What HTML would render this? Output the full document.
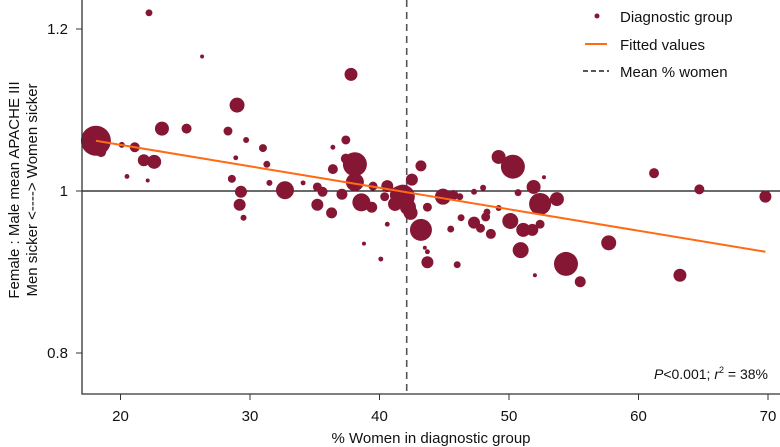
<!DOCTYPE html>
<html><head><meta charset="utf-8"><style>
body{margin:0;background:#fff}
svg{display:block;font-family:"Liberation Sans",sans-serif}
</style></head><body>
<svg id="chart" width="780" height="447" viewBox="0 0 780 447">
<g id="marks"></g>
<g id="axes"></g>
<g>
<circle cx="597" cy="16" r="2.5" fill="#861734"/>
<text x="620" y="22" font-size="15" fill="#111">Diagnostic group</text>
<line x1="585" y1="44" x2="607" y2="44" stroke="#ff6a13" stroke-width="2"/>
<text x="620" y="50" font-size="15" fill="#111">Fitted values</text>
<line x1="583" y1="71" x2="609" y2="71" stroke="#222" stroke-width="1.5" stroke-dasharray="5,3"/>
<text x="620" y="77" font-size="15" fill="#111">Mean % women</text>
</g>
<text x="768" y="379" font-size="14" text-anchor="end" fill="#111"><tspan font-style="italic">P</tspan>&lt;0.001; <tspan font-style="italic">r</tspan><tspan font-size="9" dy="-6">2</tspan><tspan dy="6"> = 38%</tspan></text>
<text x="431" y="443" font-size="15" text-anchor="middle" fill="#111">% Women in diagnostic group</text>
<text transform="translate(19,190) rotate(-90)" font-size="15" text-anchor="middle" fill="#111"><tspan x="0" dy="0">Female : Male mean APACHE III</tspan><tspan x="0" dy="18">Men sicker &lt;----&gt; Women sicker</tspan></text>
</svg>
<script>
const xs=[18.1,18.5,22.2,26.3,37.8,29.0,23.2,25.1,28.3,20.1,21.1,29.7,31.0,36.4,37.4,21.8,22.6,28.9,31.3,20.5,22.1,28.6,31.5,32.7,34.1,29.3,29.2,29.5,35.2,35.6,35.2,36.3,37.1,36.4,37.4,38.1,38.1,38.6,39.4,39.5,40.6,40.4,40.6,38.8,40.1,42.5,43.2,41.8,41.2,42.4,43.2,41.5,42.2,43.7,43.5,43.7,43.7,46.0,45.5,46.3,44.9,45.7,46.2,47.3,48.0,47.3,47.8,48.3,48.2,48.6,49.2,49.2,50.3,50.7,51.9,52.4,53.7,52.7,50.1,51.1,51.8,52.4,50.9,52.0,54.4,55.5,57.7,61.2,64.7,69.8,63.2];
const ys=[1.062,1.048,1.220,1.166,1.144,1.106,1.077,1.077,1.074,1.057,1.054,1.063,1.053,1.054,1.063,1.038,1.036,1.041,1.033,1.018,1.013,1.015,1.010,1.001,1.010,0.999,0.983,0.967,1.005,0.999,0.983,0.973,0.996,1.027,1.040,1.033,1.011,0.986,0.980,1.006,1.006,0.993,0.959,0.935,0.916,1.014,1.031,0.993,0.984,0.973,0.952,0.995,0.980,0.980,0.930,0.925,0.912,0.909,0.953,0.967,0.993,0.995,0.993,0.999,1.004,0.961,0.954,0.974,0.968,0.947,0.979,1.042,1.030,0.998,1.005,0.984,0.990,1.017,0.963,0.952,0.952,0.959,0.927,0.896,0.910,0.888,0.936,1.022,1.002,0.993,0.896];
const sizes=[225,25,12,4,42,56,49,25,20,9,25,9,16,6,20,36,49,6,12,6,4,16,9,81,6,36,36,9,20,25,36,30,30,25,25,144,81,81,30,20,36,20,6,4,6,36,30,144,49,49,121,81,64,20,4,6,36,12,12,12,64,25,12,9,9,36,20,12,20,25,9,49,144,12,49,121,49,4,64,49,36,20,64,4,144,30,56,25,25,36,42];
const xTicks=[20,30,40,50,60,70];
const yTicks=[0.8,1,1.2];
const meanWomen=42.1;
const fitX=[18.1,69.8];
const fitY=[1.062,0.925];
const X=v=>120.5+(v-20)*12.95;
const Y=v=>191-(v-1)*810;
const NS="http://www.w3.org/2000/svg";
const marks=document.getElementById('marks'), axes=document.getElementById('axes');
function mk(tag,attrs,parent){const e=document.createElementNS(NS,tag);for(const k in attrs)e.setAttribute(k,attrs[k]);parent.appendChild(e);return e;}
let rl=mk('line',{x1:82,x2:780,y1:Y(1),y2:Y(1),stroke:'#111','stroke-width':1.3},marks);


let ml=mk('line',{x1:X(meanWomen),x2:X(meanWomen),y1:0,y2:394,stroke:'#555','stroke-width':1.6,'stroke-dasharray':'7,5'},marks);


xs.forEach((x,i)=>{
  const c=mk('circle',{cx:X(x),cy:Y(ys[i]),r:Math.sqrt(sizes[i]),fill:'#861734'},marks);
  
  
});
let fl=mk('line',{x1:X(fitX[0]),y1:Y(fitY[0]),x2:X(fitX[1]),y2:Y(fitY[1]),stroke:'#ff6a13','stroke-width':2},marks);


let ax=mk('path',{d:'M82,0 V394 H780',fill:'none',stroke:'#333','stroke-width':1.3},axes);


xTicks.forEach(t=>{
  mk('line',{x1:X(t),x2:X(t),y1:394,y2:400,stroke:'#333'},axes);
  const tx=mk('text',{x:X(t),y:421,'font-size':15,'text-anchor':'middle',fill:'#111'},axes);
  tx.textContent=t;
  
  
});
yTicks.forEach(t=>{
  mk('line',{x1:76,x2:82,y1:Y(t),y2:Y(t),stroke:'#333'},axes);
  const tx=mk('text',{x:68,y:Y(t)+5,'font-size':15,'text-anchor':'end',fill:'#111'},axes);
  tx.textContent=t===1?'1':t.toFixed(1);
  
  
});
</script>
</body></html>
